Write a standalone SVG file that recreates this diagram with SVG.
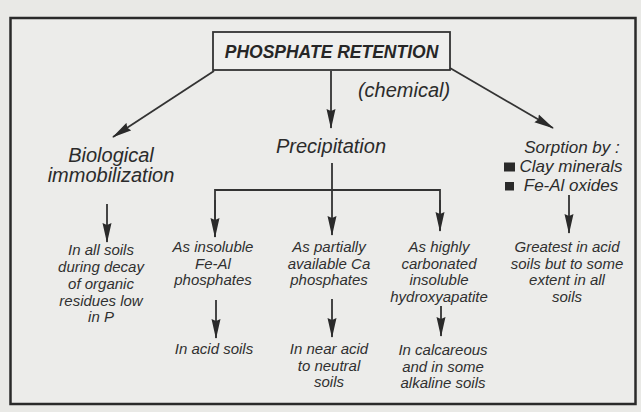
<svg xmlns="http://www.w3.org/2000/svg" width="641" height="412" viewBox="0 0 641 412">
<style>
.big{font-family:"Liberation Sans",Arial,sans-serif;font-style:italic;font-size:20px;fill:#2b2b2b;text-anchor:middle}
.mid{font-family:"Liberation Sans",Arial,sans-serif;font-style:italic;font-size:17px;fill:#2b2b2b;text-anchor:middle}
.sm{font-family:"Liberation Sans",Arial,sans-serif;font-style:italic;font-size:15px;fill:#303030;text-anchor:middle}
.ttl{font-family:"Liberation Sans",Arial,sans-serif;font-style:italic;font-weight:bold;font-size:17.5px;fill:#262626;text-anchor:middle}
.ln{stroke:#333;stroke-width:1.8;fill:none}
.ar{stroke:#333;stroke-width:1.8;fill:none;marker-end:url(#ah)}
</style>
<defs>
<marker id="ah" markerUnits="userSpaceOnUse" markerWidth="20" markerHeight="10" refX="19" refY="5" orient="auto">
<path d="M0,0.5 L20,5 L0,9.5 L2,5 Z" fill="#2a2a2a"/>
</marker>
</defs>
<rect x="0" y="0" width="641" height="412" fill="#e9e9e6"/>
<rect x="10.5" y="18" width="625" height="386" fill="#ececea" stroke="#2a2a2a" stroke-width="2.5"/>

<g id="title">
<rect x="213" y="32" width="237" height="38" fill="#efefed" stroke="#333" stroke-width="1.8"/>
<text class="ttl" x="331.5" y="58">PHOSPHATE RETENTION</text>
</g>
<g id="chemical-label"><text class="big" x="404" y="97">(chemical)</text></g>

<g id="biological">
<text class="big" x="111" y="162">Biological</text>
<text class="big" x="111" y="182">immobilization</text>
</g>
<g id="bio-detail">
<text class="sm" x="101" y="255">In all soils</text>
<text class="sm" x="101" y="272">during decay</text>
<text class="sm" x="101" y="289">of organic</text>
<text class="sm" x="101" y="305.5">residues low</text>
<text class="sm" x="101" y="322">in P</text>
</g>

<g id="precipitation"><text class="big" x="331" y="153">Precipitation</text></g>

<g id="feal-phosphates">
<text class="sm" x="213" y="252">As insoluble</text>
<text class="sm" x="213" y="268.5">Fe-Al</text>
<text class="sm" x="213" y="285">phosphates</text>
</g>
<g id="ca-phosphates">
<text class="sm" x="329" y="252">As partially</text>
<text class="sm" x="329" y="268.5">available Ca</text>
<text class="sm" x="329" y="285">phosphates</text>
</g>
<g id="hydroxyapatite">
<text class="sm" x="439" y="252">As highly</text>
<text class="sm" x="439" y="268.5">carbonated</text>
<text class="sm" x="439" y="285">insoluble</text>
<text class="sm" x="439" y="302">hydroxyapatite</text>
</g>

<g id="acid-soils"><text class="sm" x="214" y="354">In acid soils</text></g>
<g id="neutral-soils">
<text class="sm" x="329" y="354">In near acid</text>
<text class="sm" x="329" y="370.5">to neutral</text>
<text class="sm" x="329" y="387">soils</text>
</g>
<g id="calcareous-soils">
<text class="sm" x="443" y="355">In calcareous</text>
<text class="sm" x="443" y="371.5">and in some</text>
<text class="sm" x="443" y="388">alkaline soils</text>
</g>

<g id="sorption">
<text class="mid" x="572" y="152.5">Sorption by :</text>
<rect x="504" y="162.5" width="11" height="9" fill="#2a2a2a"/>
<text class="mid" x="571" y="171.5">Clay minerals</text>
<rect x="505" y="182" width="9" height="8.5" fill="#2a2a2a"/>
<text class="mid" x="571" y="191">Fe-Al oxides</text>
</g>
<g id="sorption-detail">
<text class="sm" x="567" y="252">Greatest in acid</text>
<text class="sm" x="567" y="268.5">soils but to some</text>
<text class="sm" x="567" y="285">extent in all</text>
<text class="sm" x="567" y="301.5">soils</text>
</g>

<g id="connectors">
<line class="ar" x1="214" y1="71" x2="113" y2="137"/>
<line class="ar" x1="331" y1="71" x2="331" y2="128"/>
<line class="ar" x1="450" y1="68" x2="553" y2="128"/>
<line class="ar" x1="107" y1="204" x2="107" y2="242"/>
<line class="ln" x1="332" y1="163" x2="332" y2="190"/>
<polyline class="ln" points="215,237 215,190 440,190 440,230"/>
<line class="ar" x1="215" y1="200" x2="215" y2="237"/>
<line class="ar" x1="332" y1="190" x2="332" y2="235"/>
<line class="ar" x1="440" y1="200" x2="440" y2="231"/>
<line class="ar" x1="569" y1="195" x2="569" y2="233"/>
<line class="ar" x1="216" y1="300" x2="216" y2="338"/>
<line class="ar" x1="332" y1="299" x2="332" y2="337"/>
<line class="ar" x1="441" y1="306" x2="441" y2="336"/>
</g>
</svg>
